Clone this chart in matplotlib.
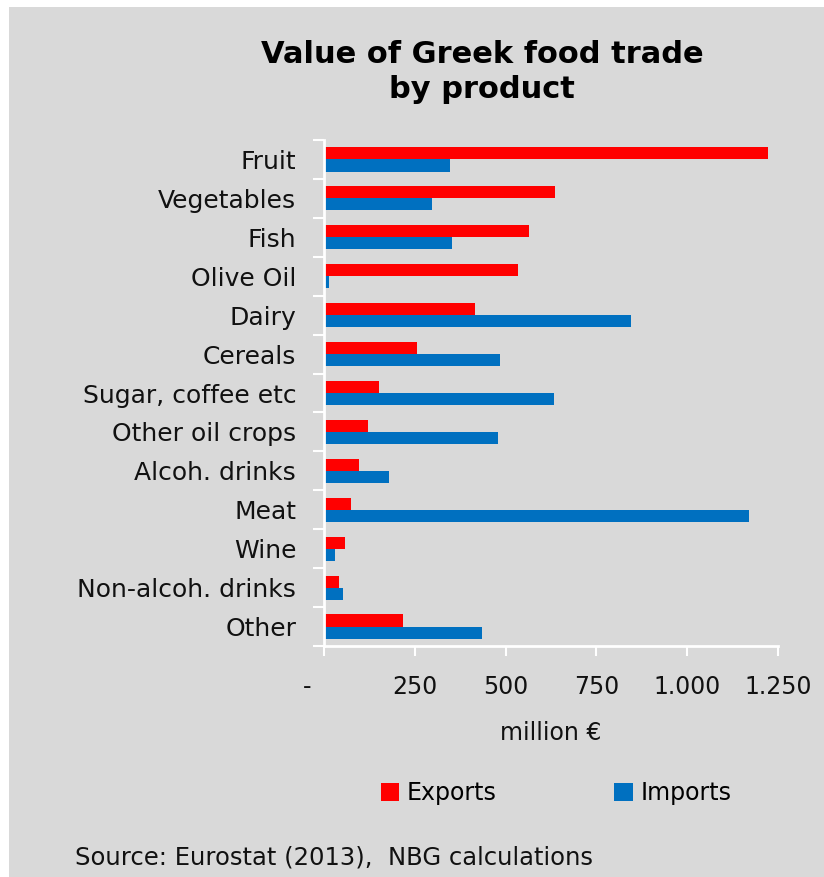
import numpy as np
import matplotlib
matplotlib.use("Agg")
import matplotlib.pyplot as plt
from matplotlib.patches import Rectangle
from matplotlib.transforms import ScaledTranslation

categories = ["Fruit", "Vegetables", "Fish", "Olive Oil", "Dairy", "Cereals",
              "Sugar, coffee etc", "Other oil crops", "Alcoh. drinks", "Meat",
              "Wine", "Non-alcoh. drinks", "Other"]
exports = [1222, 637, 564, 534, 416, 256, 151, 120, 95, 74, 59, 41, 218]
imports = [346, 296, 352, 13, 845, 484, 633, 479, 179, 1170, 30, 52, 434]
xticks = [0, 250, 500, 750, 1000, 1250]
xticklabels = ["-", "250", "500", "750", "1.000", "1.250"]

RED = "#FF0000"
BLUE = "#0070C0"
BG = "#D9D9D9"

plt.rcParams["font.family"] = ["DejaVu Sans"]

fig = plt.figure(figsize=(8.24, 8.77), dpi=100)
fig.patch.set_facecolor("white")
# grey panel, small white margin top/left
fig.add_artist(Rectangle((9 / 824, 0), 1, 1 - 7 / 877, transform=fig.transFigure,
                         facecolor=BG, edgecolor="none", zorder=-10))

ax = fig.add_axes([324 / 824, 1 - 646 / 877, 454 / 824, 506 / 877])
ax.set_facecolor(BG)

n = len(categories)
y = np.arange(n)
h = 0.31
ax.barh(y - h / 2, exports, height=h, color=RED, label="Exports")
ax.barh(y + h / 2, imports, height=h, color=BLUE, label="Imports")

ax.set_ylim(n - 0.5, -0.5)
ax.set_xlim(0, 1250)

for s in ("top", "right"):
    ax.spines[s].set_visible(False)
for s in ("left", "bottom"):
    ax.spines[s].set_color("white")
    ax.spines[s].set_linewidth(2)

ax.set_yticks(y)
ax.set_yticklabels(categories, fontsize=18, color="#111111")
ax.tick_params(axis="y", which="major", length=0, pad=20)
ax.set_yticks(np.arange(-0.5, n, 1), minor=True)
ax.tick_params(axis="y", which="minor", length=8, width=1.5, color="white")

ax.set_xticks(xticks)
ax.set_xticklabels(xticklabels, fontsize=17, color="#111111")
ax.tick_params(axis="x", length=7, width=1.5, color="white", pad=14)
lab0 = ax.get_xticklabels()[0]
lab0.set_transform(lab0.get_transform() + ScaledTranslation(-0.17, 0, fig.dpi_scale_trans))

ax.set_xlabel("million €", fontsize=17, color="#111111", labelpad=16)

fig.text(0.585, 1 - 72 / 877, "Value of Greek food trade\nby product", ha="center", va="center",
         fontsize=22, fontweight="bold", linespacing=1.3)

fig.legend(loc="center", bbox_to_anchor=(556 / 824, 1 - 793 / 877), ncol=2,
           frameon=False, fontsize=17, handlelength=0.8, handleheight=0.8,
           handletextpad=0.3, columnspacing=5)

fig.text(75 / 824, 1 - 858 / 877, "Source: Eurostat (2013),  NBG calculations",
         ha="left", va="center", fontsize=17.5, color="#111111")

fig.savefig("out.png", dpi=100, facecolor=fig.get_facecolor())
